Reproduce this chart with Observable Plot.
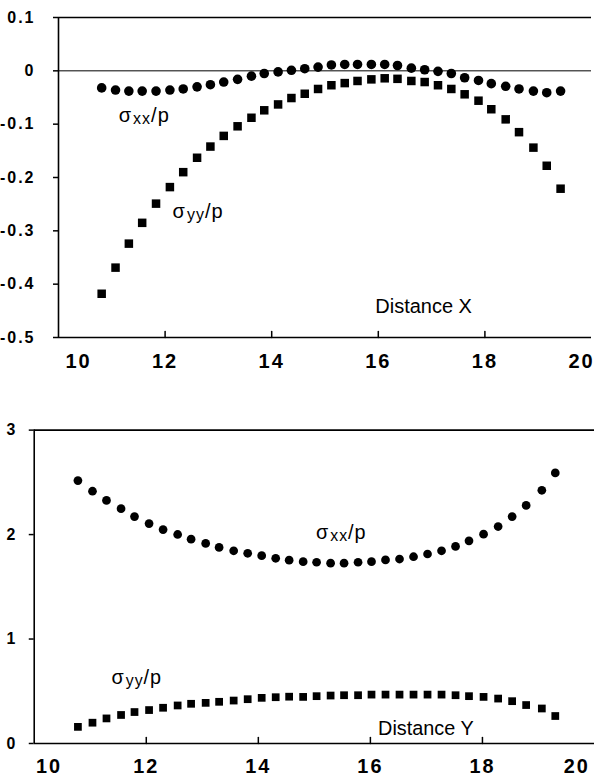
<!DOCTYPE html>
<html><head><meta charset="utf-8">
<script src="https://cdn.jsdelivr.net/npm/d3@7"></script>
<script src="https://cdn.jsdelivr.net/npm/@observablehq/plot@0.6"></script>
<style>
html,body{margin:0;background:#fff;overflow:hidden}
#chart{width:595px;overflow:hidden}
svg{display:block}
</style>
</head><body><div id="chart"></div>
<script>
// ---- Data ----
const xTop = [10.81, 11.07, 11.32, 11.57, 11.83, 12.09, 12.34, 12.60, 12.85, 13.10, 13.36, 13.62, 13.86, 14.12, 14.37, 14.62, 14.87, 15.12, 15.37, 15.61, 15.87, 16.12, 16.36, 16.62, 16.87, 17.12, 17.37, 17.62, 17.88, 18.12, 18.39, 18.64, 18.91, 19.16, 19.42];
const sxxTop = [-0.032, -0.036, -0.038, -0.038, -0.038, -0.036, -0.034, -0.030, -0.026, -0.021, -0.016, -0.010, -0.005, -0.002, 0.001, 0.004, 0.007, 0.011, 0.012, 0.012, 0.012, 0.012, 0.010, 0.005, 0.002, -0.001, -0.005, -0.013, -0.018, -0.024, -0.029, -0.034, -0.038, -0.041, -0.038];
const syyTop = [-0.418, -0.369, -0.324, -0.285, -0.249, -0.218, -0.190, -0.163, -0.142, -0.122, -0.104, -0.088, -0.074, -0.063, -0.051, -0.043, -0.034, -0.027, -0.023, -0.019, -0.016, -0.014, -0.015, -0.019, -0.021, -0.027, -0.034, -0.044, -0.056, -0.072, -0.091, -0.115, -0.144, -0.178, -0.221];

const xBot = [10.78, 11.04, 11.29, 11.55, 11.79, 12.05, 12.30, 12.56, 12.80, 13.06, 13.30, 13.56, 13.81, 14.06, 14.31, 14.55, 14.80, 15.04, 15.29, 15.53, 15.78, 16.02, 16.27, 16.52, 16.77, 17.02, 17.27, 17.52, 17.76, 18.02, 18.28, 18.53, 18.78, 19.06, 19.30];
const sxxBot = [2.517, 2.415, 2.327, 2.248, 2.172, 2.105, 2.048, 2.001, 1.956, 1.915, 1.877, 1.845, 1.821, 1.798, 1.773, 1.755, 1.741, 1.735, 1.726, 1.726, 1.735, 1.741, 1.757, 1.766, 1.788, 1.814, 1.845, 1.887, 1.940, 2.004, 2.077, 2.172, 2.279, 2.424, 2.590];
const syyBot = [0.159, 0.199, 0.240, 0.273, 0.301, 0.320, 0.342, 0.364, 0.380, 0.389, 0.399, 0.411, 0.424, 0.437, 0.443, 0.448, 0.446, 0.453, 0.459, 0.462, 0.462, 0.468, 0.468, 0.468, 0.468, 0.468, 0.468, 0.462, 0.453, 0.446, 0.430, 0.405, 0.368, 0.335, 0.263];

const yTicksTop = [0.1, 0, -0.1, -0.2, -0.3, -0.4, -0.5];
const yTicksBot = [0, 1, 2, 3];
const xTicksInner = [12, 14, 16, 18];
const xTickFirst = [10];
const xTickLast = [20];

// ---- Styling ----
const FONT = "'Liberation Sans', Arial, Helvetica, sans-serif";
const tickShape = {draw(ctx, l) { ctx.moveTo(0, 0); ctx.lineTo(0, -l); }};
const fmt = d => String(d);

function xLabels(ticks, dx) {
  return Plot.axisX(ticks, {tickSize: 0, tickPadding: 16, fontSize: 20, fontWeight: "bold", label: null, dx, tickFormat: fmt});
}

function panel({xs, sxx, syy, width, height, margins, yDomain, yTicks, yPad, rC, rS, labels, dx10, dx20}) {
  const [y0, y1] = yDomain;
  return Plot.plot({
    width, height, ...margins,
    style: {fontFamily: FONT, background: "white", color: "black", overflow: "visible"},
    x: {domain: [10, 20]},
    y: {domain: yDomain},
    marks: [
      Plot.ruleY([y1], {stroke: "black", strokeWidth: 1.6}),
      Plot.ruleY([y0], {stroke: "black", strokeWidth: 1.6}),
      Plot.ruleX([10], {stroke: "black", strokeWidth: 1.6}),
      Plot.axisY(yTicks, {tickSize: 5, tickPadding: yPad, fontSize: 16, fontWeight: "bold", label: null, tickFormat: fmt, strokeWidth: 1.5}),
      Plot.vector(xTicksInner, {x: d => d, y: y0, length: 6, rotate: 0, anchor: "start", shape: tickShape, stroke: "black", strokeWidth: 1.5}),
      xLabels(xTicksInner, 0),
      xLabels(xTickFirst, dx10),
      xLabels(xTickLast, dx20),
      Plot.dot(xs, {x: xs, y: sxx, r: rC, fill: "black", symbol: "circle"}),
      Plot.dot(xs, {x: xs, y: syy, r: rS, fill: "black", symbol: "square"}),
      ...labels
    ]
  });
}

const chartTop = panel({
  xs: xTop, sxx: sxxTop, syy: syyTop,
  width: 595, height: 385,
  margins: {marginLeft: 58, marginRight: 4, marginTop: 17, marginBottom: 48},
  yDomain: [-0.5, 0.1], yTicks: yTicksTop, yPad: 18, rC: 4.8, rS: 4.8, dx10: 20, dx20: -10,
  labels: [
    Plot.ruleY([0], {stroke: "black", strokeWidth: 1}),
    Plot.text(["σxx/p"], {x: 11.13, y: -0.0966, text: d => d, textAnchor: "start", lineAnchor: "bottom", fontSize: 20}),
    Plot.text(["σyy/p"], {x: 12.14, y: -0.2766, text: d => d, textAnchor: "start", lineAnchor: "bottom", fontSize: 20}),
    Plot.text(["Distance X"], {x: 16.85, y: -0.4548, text: d => d, textAnchor: "middle", lineAnchor: "bottom", fontSize: 20})
  ]
});

const chartBot = panel({
  xs: xBot, sxx: sxxBot, syy: syyBot,
  width: 600, height: 399,
  margins: {marginLeft: 34, marginRight: 1, marginTop: 45, marginBottom: 38},
  yDomain: [0, 3], yTicks: yTicksBot, yPad: 12, rC: 4.4, rS: 4.4, dx10: 15, dx20: -18,
  labels: [
    Plot.text(["σxx/p"], {x: 15.03, y: 1.956, text: d => d, textAnchor: "start", lineAnchor: "bottom", fontSize: 20}),
    Plot.text(["σyy/p"], {x: 11.38, y: 0.57, text: d => d, textAnchor: "start", lineAnchor: "bottom", fontSize: 20}),
    Plot.text(["Distance Y"], {x: 16.99, y: 0.085, text: d => d, textAnchor: "middle", lineAnchor: "bottom", fontSize: 20})
  ]
});

const NS = "http://www.w3.org/2000/svg";
function finish(svg) {
  svg.querySelectorAll('g[aria-label="y-axis tick label"]').forEach(g => g.setAttribute("letter-spacing", "2"));
  svg.querySelectorAll('g[aria-label="x-axis tick label"]').forEach(g => g.setAttribute("letter-spacing", "2"));
  svg.querySelectorAll("text").forEach(t => {
    const m = /^σ(\w+)\/p$/.exec(t.textContent);
    if (!m) return;
    t.textContent = "";
    const a = document.createElementNS(NS, "tspan"); a.textContent = "σ";
    const b = document.createElementNS(NS, "tspan"); b.textContent = m[1];
    b.setAttribute("font-size", "16"); b.setAttribute("dy", "2"); b.setAttribute("dx", "1");
    const c = document.createElementNS(NS, "tspan"); c.textContent = "/p"; c.setAttribute("dy", "-2");
    t.append(a, b, c);
    t.setAttribute("letter-spacing", "1");
  });
  return svg;
}

const root = document.getElementById("chart");
root.append(finish(chartTop), finish(chartBot));
</script>
</body></html>
